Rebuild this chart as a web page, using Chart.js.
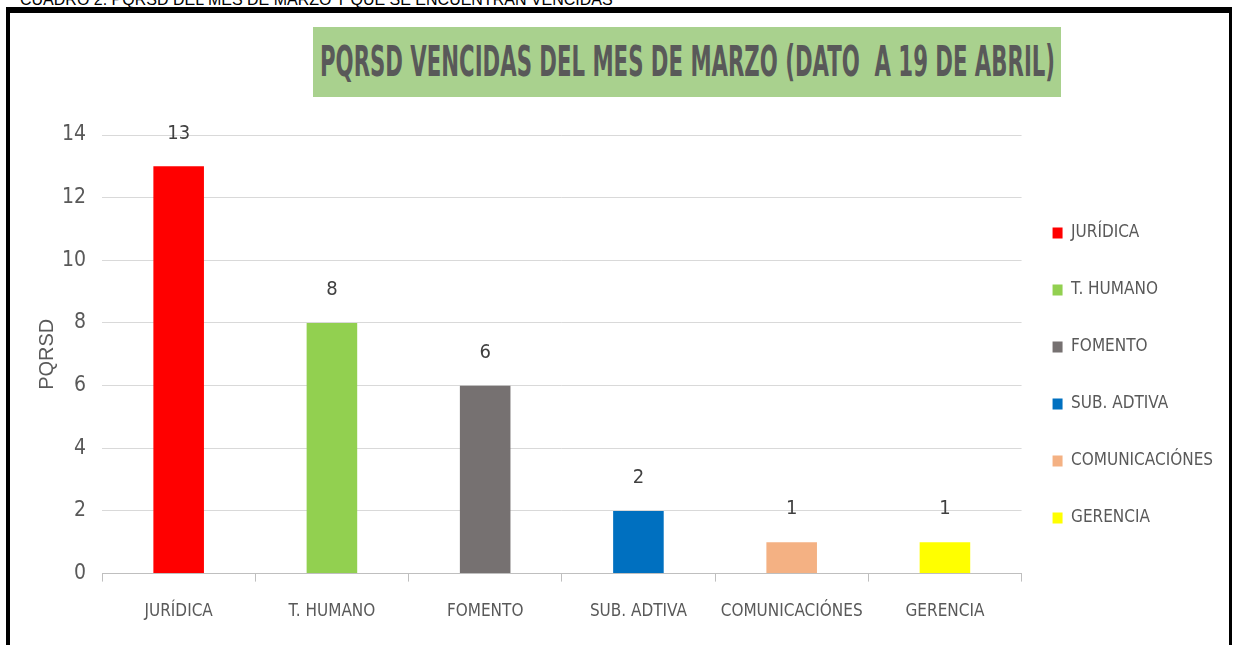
<!DOCTYPE html>
<html>
<head>
<meta charset="utf-8">
<script src="https://cdn.jsdelivr.net/npm/chart.js"></script>
<style>
  body { margin: 0; background: #fff; width: 1234px; height: 645px; overflow: hidden; position: relative; font-family: "Liberation Sans", Arial, sans-serif; }
  #cuadro { position: absolute; left: 20px; top: -9px; font-size: 16px; color: #000; white-space: nowrap; }
  #marco { position: absolute; left: 6px; top: 7px; width: 1226px; height: 700px; box-sizing: border-box; border-top: 6px solid #000; border-left: 4px solid #000; border-right: 3px solid #000; }
  #lienzo { position: absolute; left: 0; top: 0; width: 1234px; height: 645px; }
  #titulo { position: absolute; left: 313px; top: 27px; width: 748px; height: 70px; background: #a9d18e; overflow: hidden; }
  #titulo span { position: absolute; left: 7px; top: 12px; font-family: "Liberation Sans Narrow", "DejaVu Sans Condensed", sans-serif; font-weight: bold; font-size: 42px; line-height: 46px; color: #595959; white-space: nowrap; transform-origin: 0 0; }
</style>
</head>
<body>
<div id="cuadro">CUADRO 2. PQRSD DEL MES DE MARZO Y QUE SE ENCUENTRAN VENCIDAS</div>
<div id="lienzo"><canvas id="grafico" width="1234" height="645"></canvas></div>
<div id="marco"></div>
<div id="titulo"><span>PQRSD VENCIDAS DEL MES DE MARZO (DATO&nbsp; A 19 DE ABRIL)</span></div>
<script>
const categorias = ["JURÍDICA", "T. HUMANO", "FOMENTO", "SUB. ADTIVA", "COMUNICACIÓNES", "GERENCIA"];
const valores = [13, 8, 6, 2, 1, 1];
const colores = ["#ff0000", "#92d050", "#767171", "#0070c0", "#f4b183", "#ffff00"];
const marcasY = [0, 2, 4, 6, 8, 10, 12, 14];

const estrecha = "'Liberation Sans Narrow', 'DejaVu Sans Condensed', sans-serif";

// ajustar el ancho del titulo al recuadro verde
const spanTitulo = document.querySelector("#titulo span");
const escala = 735 / spanTitulo.offsetWidth;
spanTitulo.style.transform = "scaleX(" + escala + ")";

// numeros encima de cada barra
const etiquetas = {
  id: "etiquetas",
  afterDatasetsDraw(chart) {
    const ctx = chart.ctx;
    const meta = chart.getDatasetMeta(0);
    ctx.save();
    ctx.font = "20px " + estrecha;
    ctx.fillStyle = "#404040";
    ctx.textAlign = "center";
    ctx.textBaseline = "middle";
    meta.data.forEach((barra, i) => {
      ctx.fillText(valores[i], barra.x, barra.y - 33);
    });
    ctx.restore();
  },
};

// la leyenda queda un poco mas pegada al grafico y algo mas arriba
const moverLeyenda = {
  id: "moverLeyenda",
  afterLayout(chart) {
    chart.legend.left -= 9;
    chart.legend.right -= 9;
    chart.legend.top -= 13;
    chart.legend.bottom -= 13;
  },
};

new Chart(document.getElementById("grafico"), {
  type: "bar",
  data: {
    labels: categorias,
    datasets: [
      {
        label: "PQRSD",
        data: valores,
        backgroundColor: colores,
        barPercentage: 0.33,
        categoryPercentage: 1,
      },
    ],
  },
  options: {
    responsive: false,
    animation: false,
    devicePixelRatio: 1,
    layout: { padding: { left: 14, top: 135, right: 2, bottom: 3 } },
    plugins: {
      tooltip: { enabled: false },
      legend: {
        position: "right",
        onClick: null,
        labels: {
          boxWidth: 10,
          boxHeight: 11,
          padding: 40,
          color: "#595959",
          font: { family: estrecha, size: 17 },
          generateLabels: () =>
            categorias.map((c, i) => ({
              text: c,
              fillStyle: colores[i],
              strokeStyle: colores[i],
              fontColor: "#595959",
              lineWidth: 0,
              index: i,
            })),
        },
      },
    },
    scales: {
      x: {
        grid: { offset: true, drawOnChartArea: false, tickLength: 8, color: "#bfbfbf" },
        border: { color: "#bfbfbf" },
        ticks: {
          color: "#595959",
          padding: 20,
          maxRotation: 0,
          autoSkip: false,
          font: { family: estrecha, size: 17 },
        },
      },
      y: {
        min: 0,
        max: 14,
        afterBuildTicks: (eje) => {
          eje.ticks = marcasY.map((v) => ({ value: v }));
        },
        grid: { color: "#d9d9d9", drawTicks: false },
        border: { display: false },
        ticks: { color: "#595959", padding: 16, font: { family: estrecha, size: 21 } },
        title: {
          display: true,
          text: "PQRSD",
          color: "#595959",
          padding: { top: 21, bottom: -13 },
          font: { family: "'Liberation Sans', Arial, sans-serif", size: 20 },
        },
      },
    },
  },
  plugins: [etiquetas, moverLeyenda],
});
</script>
</body>
</html>
